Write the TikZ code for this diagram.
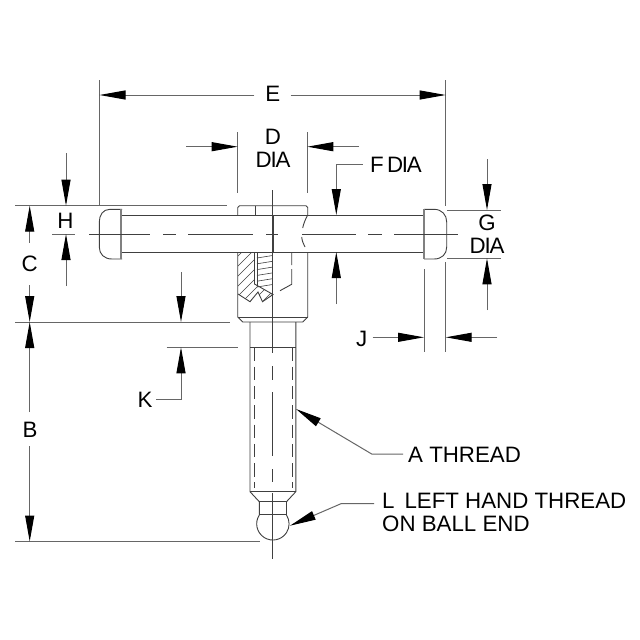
\documentclass[tikz,border=0pt]{standalone}
\usepackage{fontspec}
\setmainfont{Liberation Sans}
\usetikzlibrary{arrows.meta}
\definecolor{partline}{gray}{0.25}
\definecolor{dimline}{gray}{0.4}
\newcommand{\dialabel}{D\kern-1.2pt I\kern-1.2pt A}
\tikzset{
  part/.style={draw=partline,line width=0.9pt},
  hidden/.style={part,dash pattern=on 13.5pt off 5.8pt},
  extline/.style={draw=dimline,line width=1pt},
  dimarrow/.style={draw=dimline,line width=1pt,-{Triangle[length=26pt,width=9pt,color=black]}},
  dimlabel/.style={inner sep=0pt,text=black,font=\fontsize{22.3}{23}\selectfont,align=center},
}
\begin{document}
\begin{tikzpicture}[x=1pt,y=-1pt]
    \useasboundingbox (0,0) rectangle (640,640);
    \fill[white] (0,0) rectangle (640,640);
    %handle
    \draw[part] (121,215) -- (424,215) (121,252) -- (424,252);
    \draw[part] (122,209.3) -- (110,209.3) .. controls (103,209.3) and (99.3,215) .. (99.3,222) -- (99.3,247) .. controls (99.3,254) and (104,259) .. (112,259) -- (122,259);
    \draw[part] (424,209.3) -- (434,209.3) .. controls (442,209.3) and (446.7,215) .. (446.7,222) -- (446.7,247) .. controls (446.7,254) and (442,259) .. (434,259) -- (424,259);
    \draw[draw=gray,line width=2pt] (121,209.3) -- (121,259) (424,209.3) -- (424,259);
    %collar
    \draw[part] (237.7,215) -- (237.7,207.5) -- (239.5,205.7) -- (305.9,205.7) -- (307.7,207.5) -- (307.7,215);
    \draw[part] (255,205.7) -- (255,215);
    \draw[part] (237.7,252) -- (237.7,317) -- (242.7,322) -- (302.7,322) -- (307.7,317) -- (307.7,252);
    \draw[part] (237.7,317) -- (307.7,317);
    \draw[part] (307.7,215) .. controls (305,220) and (303.5,224) .. (302.7,228);
    \draw[part] (301.7,237) .. controls (302,241) and (303.5,244) .. (305,247);
    \draw[part] (291.7,253) -- (291.7,265) (291.7,269) -- (291.7,284.3) -- (280,290.7);
    %section
    \begin{scope}
      \clip (238,252) -- (254.5,252) -- (254.5,284) -- (273,294.5) -- (262.5,301.7) -- (258,292) -- (250,301.7) -- (238,294) -- cycle;
      \foreach \i in {0,...,8} \draw[part,line width=0.6pt] (230,254+10*\i) -- (290,194+10*\i);
    \end{scope}
    \draw[part] (254.5,252) -- (254.5,284) -- (273,294.5) -- (262.5,301.7) -- (258,292) -- (250,301.7) -- (238,294);
    \draw[part,line width=0.6pt] (257,252) -- (257,286);
    \foreach \i in {0,...,5} \draw[part,line width=0.6pt] (257,258+5.8*\i) -- (272.5,255.5+5.8*\i);
    %shaft
    \draw[part] (250,322) -- (250,491.7) -- (259.3,501.7) -- (259.3,515) arc[start angle=147,end angle=393,radius=16.2pt] -- (286.5,501.7) -- (295.8,491.7) -- (295.8,322);
    \draw[part] (250,347.3) -- (295.8,347.3) (250,491.7) -- (295.8,491.7) (259.3,501.7) -- (286.5,501.7) (259.3,514) -- (286.5,514);
    \draw[hidden] (254,347.3) -- (254,488) (292.7,347.3) -- (292.7,488);
    %center lines
    \draw[part] (272.8,190) -- (272.8,353) (272.8,366) -- (272.8,379.5) (272.8,392) -- (272.8,456) (272.8,469) -- (272.8,482) (272.8,493) -- (272.8,559);
    \draw[part,line width=1.4pt] (272.8,215) -- (272.8,252);
    \draw[part] (89,234) -- (150,234) (163,234) -- (176,234) (188,234) -- (253,234) (266,234) -- (278,234) (302,234) -- (356,234) (368,234) -- (382,234) (394,234) -- (458,234);
    %extension lines
    \draw[extline] (99.5,80) -- (99.5,205.7) (445.7,80) -- (445.7,206);
    \draw[extline] (15,205.7) -- (226.7,205.7) (15,322) -- (230,322) (15,541.5) -- (260,541.5);
    \draw[extline] (52,234) -- (75,234) (166.7,347.3) -- (237.7,347.3);
    \draw[extline] (237.7,132) -- (237.7,193) (307.3,132) -- (307.3,193);
    \draw[extline] (447,210) -- (500.7,210) (447,258.3) -- (500.7,258.3);
    \draw[extline] (424,269) -- (424,352) (445.7,262) -- (445.7,352);
    %labels
    \node[dimlabel] (E) at (272.7,94) {E};
    \node[dimlabel] (D) at (273,148) {D\\\dialabel};
    \node[dimlabel,anchor=west] (F) at (370,165) {F\kern-3pt\ \dialabel};
    \node[dimlabel] (G) at (487,234) {G\\\dialabel};
    \node[dimlabel] (H) at (65.5,221) {H};
    \node[dimlabel] (C) at (29.7,263.5) {C};
    \node[dimlabel] (B) at (30,430) {B};
    \node[dimlabel] (J) at (361.7,339) {J};
    \node[dimlabel] (K) at (145,400) {K};
    \node[dimlabel,anchor=west] (A) at (408,454.5) {A THREAD};
    \node[dimlabel,anchor=west,align=left] (L) at (382,512.5) {L\, LEFT HAND THREAD\\ON BALL END};
    %arrow ends
    \coordinate (Eleft) at (99.5,95);
    \coordinate (Etailleft) at (254.3,95);
    \coordinate (Eright) at (445.7,95);
    \coordinate (Etailright) at (290.7,95);
    \coordinate (Dleft) at (237.7,146.7);
    \coordinate (Dtailleft) at (186,146.7);
    \coordinate (Dright) at (307.3,146.7);
    \coordinate (Dtailright) at (359,146.7);
    \coordinate (Fknee) at (336.3,164.7);
    \coordinate (Ftop) at (336.3,215);
    \coordinate (Fbottom) at (336.3,252);
    \coordinate (Ftail) at (336.3,304);
    \coordinate (Gtop) at (487,210);
    \coordinate (Gtailtop) at (487,159);
    \coordinate (Gbottom) at (487,258.3);
    \coordinate (Gtailbottom) at (487,310);
    \coordinate (Htop) at (66,205.7);
    \coordinate (Htailtop) at (66,153);
    \coordinate (Hbottom) at (66,234);
    \coordinate (Htailbottom) at (66,286);
    \coordinate (Ctop) at (29.7,205.7);
    \coordinate (Ctailtop) at (29.7,242.7);
    \coordinate (Cbottom) at (29.7,322);
    \coordinate (Ctailbottom) at (29.7,285);
    \coordinate (Btop) at (29.7,322);
    \coordinate (Btailtop) at (29.7,412);
    \coordinate (Bbottom) at (29.7,541.5);
    \coordinate (Btailbottom) at (29.7,446);
    \coordinate (Jleft) at (424,337.3);
    \coordinate (Jtailleft) at (372.7,337.3);
    \coordinate (Jright) at (445.7,337.3);
    \coordinate (Jtailright) at (497,337.3);
    \coordinate (Ktop) at (181,322);
    \coordinate (Ktailtop) at (181,272);
    \coordinate (Kbottom) at (181,347.3);
    \coordinate (Kknee) at (181,399);
    \coordinate (Kend) at (156,399);
    \coordinate (Atip) at (296,409);
    \coordinate (Aknee) at (371.7,454);
    \coordinate (Aend) at (403,454);
    \coordinate (Ltip) at (290,525.7);
    \coordinate (Lknee) at (341,503.7);
    \coordinate (Lend) at (374,503.7);
    \coordinate (Fend) at (362.7,164.7);
    %dimensions
    \path[every edge/.append style={dimarrow}]
     (Etailleft) edge (Eleft)
     (Etailright) edge (Eright)
     (Dtailleft) edge (Dleft)
     (Dtailright) edge (Dright)
     (Ftail) edge (Fbottom)
     (Gtailtop) edge (Gtop)
     (Gtailbottom) edge (Gbottom)
     (Htailtop) edge (Htop)
     (Htailbottom) edge (Hbottom)
     (Ctailtop) edge (Ctop)
     (Ctailbottom) edge (Cbottom)
     (Btailtop) edge (Btop)
     (Btailbottom) edge (Bbottom)
     (Jtailleft) edge (Jleft)
     (Jtailright) edge (Jright)
     (Ktailtop) edge (Ktop);
    \draw[dimarrow] (Fend) -- (Fknee) -- (Ftop);
    \draw[dimarrow] (Kend) -- (Kknee) -- (Kbottom);
    \draw[dimarrow] (Aend) -- (Aknee) -- (Atip);
    \draw[dimarrow] (Lend) -- (Lknee) -- (Ltip);
\end{tikzpicture}
\end{document}
